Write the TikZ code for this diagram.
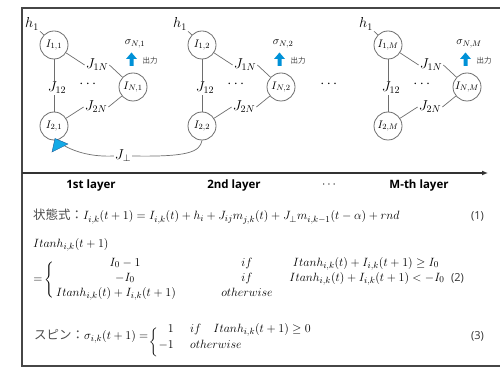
\documentclass[tikz,border=0pt]{standalone}
\usepackage{amsmath}
\usepackage{fontspec}
\newfontfamily\jp{Noto Sans CJK JP}
\newfontfamily\lbl{Open Sans}
\usetikzlibrary{arrows.meta}
\definecolor{edge}{RGB}{110,110,110}
\definecolor{frame}{RGB}{70,70,70}
\definecolor{outblue}{RGB}{0,145,215}
\definecolor{triblue}{RGB}{20,170,230}
\definecolor{tridark}{RGB}{30,90,150}
\begin{document}
\begin{tikzpicture}[x=1pt,y=-1pt,
  neuron/.style={circle,draw=edge,line width=0.8pt,minimum size=28pt,inner sep=0pt,fill=white,font=\fontsize{11}{11}\selectfont},
  conn/.style={draw=edge,line width=0.7pt},
  lab/.style={inner sep=1pt,font=\fontsize{14.5}{14.5}\selectfont},
  small/.style={inner sep=0.5pt,font=\fontsize{11}{11}\selectfont},
  jptxt/.style={inner sep=0pt,font=\jp\fontsize{7.5}{7.5}\selectfont,text=black!75},
  layertxt/.style={inner sep=0pt,font=\lbl\bfseries\fontsize{11.5}{11.5}\selectfont},
  eq/.style={inner sep=0pt,font=\fontsize{12.2}{14}\selectfont},
  num/.style={inner sep=0pt,font=\lbl\fontsize{11}{11}\selectfont,text=black!80}]
\useasboundingbox (0,0) rectangle (500,371);
\clip (0,0) rectangle (500,371);
\draw[frame,line width=1.4pt] (22,8) rectangle (510,366);

\foreach \dx/\k/\n in {0/1/a,148/2/b,334/M/c}{
  \node[neuron] (I1\n) at (54+\dx,45) {$I_{1,\k}$};
  \node[neuron] (I2\n) at (54+\dx,126) {$I_{2,\k}$};
  \node[neuron] (IN\n) at (133+\dx,87) {$I_{N,\k}$};
  \node[lab] (h\n) at (32+\dx,24) {$h_1$};
  \node[lab] (J12\n) at (57+\dx,88) {$J_{12}$};
  \node[lab] (J1N\n) at (97+\dx,65) {$J_{1N}$};
  \node[lab] (J2N\n) at (96+\dx,107) {$J_{2N}$};
  \node[lab] (dots\n) at (89+\dx,84) {$\cdots$};
  \node[small] (s\n) at (135+\dx,44) {$\sigma_{N,\k}$};
  \node[jptxt] (out\n) at (150+\dx,61) {出力};
  \draw[conn] (h\n.south east) -- (I1\n);
  \draw[conn] (I1\n) -- (I1\n |- J12\n.north);
  \draw[conn] (I2\n |- J12\n.south) -- (I2\n);
  \draw[conn] (I1\n) -- (J1N\n.west);
  \draw[conn] (J1N\n.east) -- (IN\n);
  \draw[conn] (IN\n) -- (J2N\n.east);
  \draw[conn] (J2N\n.west) -- (I2\n);
  \fill[outblue] (129.5+\dx,66) -- (129.5+\dx,59) -- (126+\dx,59) -- (131.5+\dx,52.5) -- (137+\dx,59) -- (133.5+\dx,59) -- (133.5+\dx,66) -- cycle;
}
\node[lab] (dotsmid) at (330,84) {$\cdots$};

% inter-layer connection
\node[lab] (Jp) at (123,156) {$J_{\perp}$};
\coordinate (tipbase) at (63,145);
\draw[conn] (I2b.south) .. controls (200,152) and (188,157) .. (Jp.east);
\draw[conn] (Jp.west) .. controls (92,157) and (75,152) .. (tipbase);
\filldraw[fill=triblue,draw=tridark,line width=0.4pt] (52,152) -- (55,138.5) -- (68,144) -- cycle;

% axis
\coordinate (axstart) at (22,173);
\coordinate (axend) at (488,173);
\draw[black!80,line width=1.3pt,-{Latex[length=6pt,width=5pt]}] (axstart) -- (axend);
\node[layertxt] (L1) at (91,186) {1st layer};
\node[layertxt] (L2) at (234,186) {2nd layer};
\node[layertxt] (L3) at (330,185) {$\cdots$};
\node[layertxt] (L4) at (419,186) {M-th layer};

% equation (1)
\node[eq,anchor=base west] (e1) at (33,220) {{\jp\fontsize{12.5}{13}\selectfont\color{black!70}状態式：}$I_{i,k}(t+1) = I_{i,k}(t) + h_i + J_{ij}m_{j,k}(t) + J_{\perp}m_{i,k-1}(t-\alpha) + rnd$};
\node[num,anchor=base east] (n1) at (484,220) {(1)};

% equation (2)
\node[eq,anchor=base west] (e2a) at (33,247.5) {$Itanh_{i,k}(t+1)$};
\node[eq,anchor=base] (e2eq) at (38,282) {$=$};
\node[eq,anchor=west] (e2br) at (44,280) {$\left\{\rule[-15pt]{0pt}{30pt}\right.$};
\node[eq,anchor=base] (r1a) at (125,266) {$I_0-1$};
\node[eq,anchor=base] (r1b) at (247,266) {$if$};
\node[eq,anchor=base] (r1c) at (366,266) {$Itanh_{i,k}(t)+I_{i,k}(t+1)\ge I_0$};
\node[eq,anchor=base] (r2a) at (125,281) {$-I_0$};
\node[eq,anchor=base] (r2b) at (247,281) {$if$};
\node[eq,anchor=base] (r2c) at (367,281) {$Itanh_{i,k}(t)+I_{i,k}(t+1)< -I_0$};
\node[eq,anchor=base west] (r3a) at (56,296) {$Itanh_{i,k}(t)+I_{i,k}(t+1)$};
\node[eq,anchor=base] (r3b) at (247,296) {$otherwise$};
\node[num,anchor=base east] (n2) at (464,281) {(2)};

% equation (3)
\node[eq,anchor=base west] (e3) at (34,339.5) {{\jp\fontsize{12.5}{13}\selectfont\color{black!70}スピン：}$\sigma_{i,k}(t+1) =$};
\node[eq,anchor=west] (e3br) at ([yshift=-3pt]e3.base east) {$\left\{\rule[-11pt]{0pt}{22pt}\right.$};
\node[eq,anchor=base east] (s1a) at (174,332) {$1$};
\node[eq,anchor=base west] (s1b) at (190,332) {$if\quad Itanh_{i,k}(t+1)\ge 0$};
\node[eq,anchor=base east] (s2a) at (174,348) {$-1$};
\node[eq,anchor=base west] (s2b) at (190,348) {$otherwise$};
\node[num,anchor=base east] (n3) at (484,339.5) {(3)};
\end{tikzpicture}
\end{document}
